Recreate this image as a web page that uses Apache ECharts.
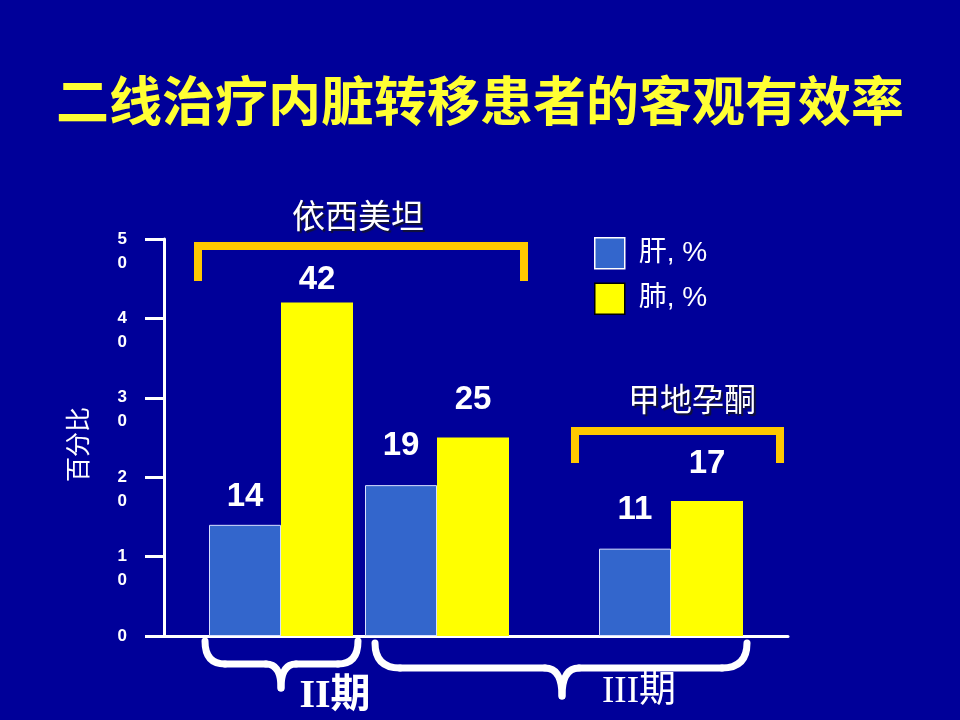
<!DOCTYPE html>
<html>
<head>
<meta charset="utf-8">
<script src="https://cdn.jsdelivr.net/npm/echarts@6/dist/echarts.min.js"></script>
<style>
html,body{margin:0;padding:0;background:#000099;}
#c{width:960px;height:720px;}
</style>
</head>
<body>
<div id="c"></div>
<script>
// ---- data ----
const titleText = '二线治疗内脏转移患者的客观有效率';
const groups = ['依西美坦 II期', '依西美坦 III期', '甲地孕酮 III期'];
const seriesNames = ['肝, %', '肺, %'];
const liverPct = [14, 19, 11];
const lungPct = [42, 25, 17];
const yTicks = [0, 10, 20, 30, 40, 50];
const yAxisName = '百分比';
const drugLabels = ['依西美坦', '甲地孕酮'];
const stageLabels = ['II期', 'III期'];

// ---- layout (positions / sizes only) ----
const SLOT_COUNT = 8;
const SLOT_OF_GROUP = [1, 3, 6];
const LIVER_LABEL_GAP = [11, 23, 22];
const LUNG_LABEL_GAP = [6, 21, 21];

const xSlots = [];
for (let i = 0; i < SLOT_COUNT; i++) xSlots.push('slot' + i);
SLOT_OF_GROUP.forEach((s, g) => { xSlots[s] = groups[g]; });

function slotData(values, gaps) {
  const arr = new Array(SLOT_COUNT).fill('-');
  SLOT_OF_GROUP.forEach((s, g) => {
    arr[s] = { value: values[g], label: { distance: gaps[g] } };
  });
  return arr;
}

const barLabel = {
  show: true, position: 'top', color: '#ffffff',
  fontSize: 33, fontWeight: 'bold', fontFamily: 'Liberation Sans, Arial, sans-serif'
};

const bracketStyle = { stroke: '#FFC800', lineWidth: 8, fill: null, lineJoin: 'miter', lineCap: 'butt' };
const braceStyle = { stroke: '#ffffff', lineWidth: 7, fill: null, lineCap: 'round', lineJoin: 'round' };

function drugText(txt, x, y, size) {
  return {
    type: 'text', z: 10,
    style: {
      text: txt, x: x, y: y, align: 'center', verticalAlign: 'middle',
      fill: '#ffffff', fontSize: size, fontFamily: 'Noto Sans CJK SC',
      textShadowColor: 'rgba(20,20,40,0.9)', textShadowOffsetX: 2, textShadowOffsetY: 2, textShadowBlur: 1
    }
  };
}

function brace(xL, xR, xM, yT, yH, yB, r, r2) {
  const q = (x1, y1, cx, cy, x2, y2) => ({ type: 'bezierCurve', z: 5, shape: { x1, y1, cpx1: cx, cpy1: cy, x2, y2 }, style: braceStyle });
  const l = (x1, y1, x2, y2) => ({ type: 'line', z: 5, shape: { x1, y1, x2, y2 }, style: braceStyle });
  return [
    q(xL, yT, xL, yH, xL + r, yH),
    l(xL + r, yH, xM - r2, yH),
    q(xM - r2, yH, xM, yH, xM, yB),
    q(xM + r2, yH, xM, yH, xM, yB),
    l(xM + r2, yH, xR - r, yH),
    q(xR - r, yH, xR, yH, xR, yT)
  ];
}

const chart = echarts.init(document.getElementById('c'), null, { renderer: 'canvas' });

chart.setOption({
  animation: false,
  backgroundColor: '#000099',
  title: {
    text: titleText, left: 'center', top: 74, padding: 0,
    textStyle: { color: '#FFFF33', fontSize: 53, fontWeight: 'bold', fontFamily: 'Noto Sans CJK SC' }
  },
  legend: {
    orient: 'vertical', left: 594, top: 237, padding: 0,
    itemWidth: 30, itemHeight: 31, itemGap: 13, icon: 'rect', selectedMode: false,
    textStyle: { color: '#ffffff', fontSize: 28, fontFamily: 'Liberation Sans, Noto Sans CJK SC', padding: [0, 0, 0, 9] },
    data: [
      { name: seriesNames[0], itemStyle: { borderColor: '#ffffff', borderWidth: 1.5 } },
      { name: seriesNames[1], itemStyle: { borderColor: '#000000', borderWidth: 1.5 } }
    ]
  },
  grid: { left: 164, top: 239, width: 624, bottom: 84, outerBoundsMode: 'none', containLabel: false },
  xAxis: {
    type: 'category', data: xSlots,
    axisLine: { show: true, lineStyle: { color: '#ffffff', width: 3 } },
    axisTick: { show: false }, axisLabel: { show: false }, splitLine: { show: false }
  },
  yAxis: {
    type: 'value', min: yTicks[0], max: yTicks[yTicks.length - 1], interval: yTicks[1] - yTicks[0],
    name: yAxisName, nameLocation: 'middle', nameGap: 74, nameRotate: 90,
    nameTextStyle: { color: '#ffffff', fontSize: 25, fontFamily: 'Noto Sans CJK SC', padding: [0, 14, 0, 0] },
    axisLine: { show: true, lineStyle: { color: '#ffffff', width: 3 } },
    axisTick: { show: true, length: 19, lineStyle: { color: '#ffffff', width: 3 } },
    splitLine: { show: false },
    axisLabel: {
      color: '#ffffff', fontSize: 17, fontWeight: 'bold', fontFamily: 'Liberation Sans, Arial',
      margin: 37, lineHeight: 24,
      formatter: v => v === 0 ? '0' : '\n' + String(v).split('').join('\n')
    }
  },
  series: [
    {
      name: seriesNames[0], type: 'bar', barWidth: 72, barGap: '0%',
      itemStyle: { color: '#3366CC', borderColor: '#D8E0FF', borderWidth: 1 },
      label: barLabel,
      data: slotData(liverPct, LIVER_LABEL_GAP)
    },
    {
      name: seriesNames[1], type: 'bar', barWidth: 72, barGap: '0%',
      itemStyle: { color: '#FFFF00' },
      label: barLabel,
      data: slotData(lungPct, LUNG_LABEL_GAP)
    }
  ],
  graphic: [
    { type: 'polyline', z: 5, shape: { points: [[198, 281], [198, 246], [524, 246], [524, 281]] }, style: bracketStyle },
    { type: 'polyline', z: 5, shape: { points: [[575, 463], [575, 431], [780, 431], [780, 463]] }, style: bracketStyle },
    drugText(drugLabels[0], 358, 215, 33),
    drugText(drugLabels[1], 692, 399, 32),
    ...brace(205, 358, 281, 641, 664, 688, 20, 15),
    ...brace(375, 747, 562, 643, 668, 696, 25, 17),
    { type: 'text', z: 10, style: { text: stageLabels[0], x: 335, y: 697, align: 'center', verticalAlign: 'middle', fill: '#ffffff', fontSize: 40, fontWeight: 'bold', fontFamily: 'Liberation Serif, Noto Sans CJK SC' } },
    { type: 'text', z: 10, style: { text: stageLabels[1], x: 639, y: 692, align: 'center', verticalAlign: 'middle', fill: '#ffffff', fontSize: 37, fontFamily: 'Liberation Serif, Noto Sans CJK SC' } }
  ]
});
</script>
</body>
</html>
